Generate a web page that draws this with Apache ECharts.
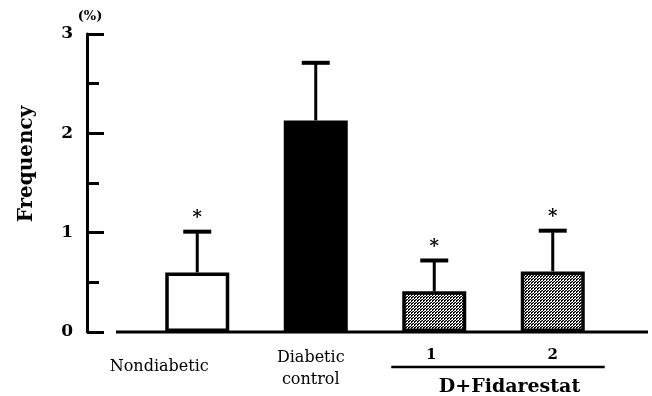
<!DOCTYPE html>
<html>
<head>
<meta charset="utf-8">
<script src="https://cdn.jsdelivr.net/npm/echarts@6/dist/echarts.min.js"></script>
<style>
  html, body { margin: 0; padding: 0; background: #fff; }
  #chart { width: 652px; height: 396px; }
</style>
</head>
<body>
<div id="chart"></div>
<script>
// Group labels and measured frequencies (%), mean and SD
const categories = ['Nondiabetic', 'Diabetic\ncontrol', '1', '2'];
const means = [0.60, 2.13, 0.41, 0.61];
const sds = [0.41, 0.58, 0.31, 0.41];
const marks = ['*', '', '*', '*'];
const yTicks = [0, 1, 2, 3];
const groupTitle = 'D+Fidarestat';

const FONT = '"DejaVu Serif", "Liberation Serif", serif';

// Fine stipple used for the treated groups
function stipple() {
  const c = document.createElement('canvas');
  c.width = 3; c.height = 3;
  const g = c.getContext('2d');
  g.fillStyle = '#fff'; g.fillRect(0, 0, 3, 3);
  g.fillStyle = '#000';
  g.fillRect(0, 0, 2, 1);
  g.fillRect(0, 1, 1, 1);
  g.fillRect(2, 2, 1, 1);
  g.fillStyle = '#555';
  g.fillRect(1, 2, 1, 1);
  return c;
}
const pattern = { image: stipple(), repeat: 'repeat' };

const fills = ['#ffffff', '#000000', pattern, pattern];
const labelStyles = [
  { fontSize: 16, fontFamily: FONT, color: '#000', lineHeight: 22, padding: [9, 76, 0, 0] },
  { fontSize: 16, fontFamily: FONT, color: '#000', lineHeight: 22, padding: [0, 10, 0, 0] },
  { fontSize: 15, fontFamily: FONT, fontWeight: 'bold', color: '#000', lineHeight: 16, padding: [0, 6, 0, 0] },
  { fontSize: 15, fontFamily: FONT, fontWeight: 'bold', color: '#000', lineHeight: 16, padding: [0, 0, 0, 0] }
];

const chart = echarts.init(document.getElementById('chart'));

const option = {
  animation: false,
  backgroundColor: '#fff',
  grid: { left: 138, right: 40, top: 34, bottom: 64 },
  xAxis: {
    type: 'category',
    data: categories.map((c, i) => ({ value: c, textStyle: labelStyles[i] })),
    axisLine: { show: false },
    axisTick: { show: false },
    axisLabel: { margin: 15, interval: 0 }
  },
  yAxis: {
    type: 'value',
    min: yTicks[0],
    max: yTicks[yTicks.length - 1],
    interval: 1,
    offset: 51,
    axisLine: { show: true, lineStyle: { color: '#000', width: 3 } },
    axisTick: { show: true, inside: true, length: 17, lineStyle: { color: '#000', width: 3 } },
    minorTick: { show: true, splitNumber: 2, length: 12, lineStyle: { color: '#000', width: 3 } },
    splitLine: { show: false },
    axisLabel: {
      margin: 14,
      fontFamily: FONT, fontWeight: 'bold', fontSize: 17, color: '#000'
    }
  },
  series: [
    {
      type: 'bar',
      barWidth: 64,
      data: means.map((v, i) => ({
        value: v,
        itemStyle: { color: fills[i], borderColor: '#000', borderWidth: 3.5 }
      })),
      z: 3
    },
    {
      type: 'custom',
      z: 2,
      data: means.map((v, i) => [i, v, v + sds[i], marks[i]]),
      renderItem: function (params, api) {
        const base = api.coord([api.value(0), api.value(1)]);
        const top = api.coord([api.value(0), api.value(2)]);
        const half = 14;
        const children = [
          { type: 'line', shape: { x1: base[0], y1: base[1], x2: top[0], y2: top[1] },
            style: { stroke: '#000', lineWidth: 3 } },
          { type: 'line', shape: { x1: top[0] - half, y1: top[1], x2: top[0] + half, y2: top[1] },
            style: { stroke: '#000', lineWidth: 4 } }
        ];
        const m = marks[params.dataIndex];
        if (m) {
          children.push({
            type: 'text',
            style: {
              text: m, x: top[0], y: top[1] - 4,
              align: 'center', verticalAlign: 'bottom',
              font: 'bold 18px ' + FONT, fill: '#000'
            }
          });
        }
        return { type: 'group', children: children };
      }
    }
  ]
};

chart.setOption(option);

// Axis decorations: baseline, units, axis title and the treatment group bracket
const y0 = chart.convertToPixel({ yAxisIndex: 0 }, 0);
const x1 = chart.convertToPixel({ xAxisIndex: 0 }, 2);
const x2 = chart.convertToPixel({ xAxisIndex: 0 }, 3);
chart.setOption({
  graphic: [
    { type: 'line', shape: { x1: 116, y1: y0, x2: 648, y2: y0 },
      style: { stroke: '#000', lineWidth: 3 } },
    { type: 'text', x: 90, y: 17,
      style: { text: '(%)', font: 'bold 13px ' + FONT, fill: '#000', align: 'center', verticalAlign: 'middle' } },
    { type: 'text', x: 27, y: 164, rotation: Math.PI / 2,
      style: { text: 'Frequency', font: 'bold 20px ' + FONT, fill: '#000', align: 'center', verticalAlign: 'middle' } },
    { type: 'line', shape: { x1: x1 - 43, y1: 367, x2: x2 + 52, y2: 367 },
      style: { stroke: '#000', lineWidth: 2.5 } },
    { type: 'text', x: (x1 + x2) / 2 + 16, y: 387,
      style: { text: groupTitle, font: 'bold 19px ' + FONT, fill: '#000', align: 'center', verticalAlign: 'middle' } }
  ]
});
</script>
</body>
</html>
